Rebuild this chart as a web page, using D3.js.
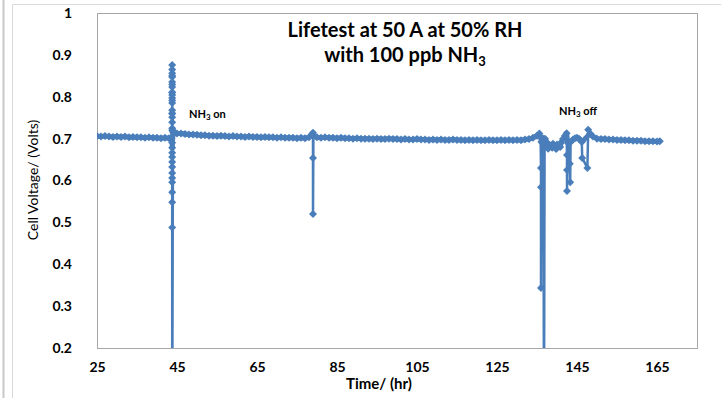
<!DOCTYPE html>
<html>
<head>
<meta charset="utf-8">
<script src="https://cdn.jsdelivr.net/npm/d3@7"></script>
<style>
  body { margin: 0; background: #fff; }
  svg text { font-family: Lato, "Open Sans", sans-serif; fill: #000; }
</style>
</head>
<body>
<div id="container"></div>
<script>
/* DATA */
const xTicks = [25, 45, 65, 85, 105, 125, 145, 165];
const yTicks = [0.2, 0.3, 0.4, 0.5, 0.6, 0.7, 0.8, 0.9, 1];
const titleLines = ["Lifetest at 50 A at 50% RH", "with 100 ppb NH"];

// [time (hr), cell voltage (V)]; 0 = reading below the axis minimum
const readings = [
  [25,.706],[26,.705],[27,.706],[28,.705],[29,.704],[30,.705],[31,.704],[32,.705],[33,.703],[34,.704],
  [35,.703],[36,.703],[37,.702],[38,.703],[39,.702],[40,.702],[41,.701],[42,.702],[43,.701],[43.6,.701],
  [43.8,.725],[43.8,.739],[43.8,.751],[43.8,.760],[43.8,.768],[43.8,.785],[43.8,.791],[43.8,.797],
  [43.8,.804],[43.8,.811],[43.8,.823],[43.8,.829],[43.8,.835],[43.8,.847],[43.8,.856],[43.8,.865],
  [43.8,.876],[43.8,.850],[43.8,.810],[43.8,.760],[43.8,.720],[43.8,.690],[43.8,.678],[43.8,.666],
  [43.8,.656],[43.8,.644],[43.8,.632],[43.8,.618],[43.8,.606],[43.8,.596],[43.8,.572],[43.8,.548],
  [43.8,.488],[43.8,0],[44,.716],[44.5,.714],[45,.712],[46,.712],[47,.711],[48,.710],[49,.710],
  [50,.709],[51,.708],[52,.708],[53,.707],[54,.707],[55,.706],[56,.707],[57,.706],[58,.705],[59,.706],
  [60,.705],[61,.705],[62,.704],[63,.705],[64,.704],[65,.704],[66,.703],[67,.704],[68,.703],[69,.703],
  [70,.702],[71,.703],[72,.702],[73,.702],[74,.702],[75,.701],[76,.702],[77,.701],[78,.703],[78.7,.710],
  [79,.714],[79,.654],[79,.520],[79.1,.706],[80,.703],[81,.702],[82,.703],[83,.702],[84,.702],[85,.701],
  [86,.702],[87,.701],[88,.701],[89,.700],[90,.701],[91,.700],[92,.700],[93,.700],[94,.699],[95,.700],
  [96,.699],[97,.699],[98,.700],[99,.699],[100,.699],[101,.698],[102,.699],[103,.698],[104,.698],[105,.699],
  [106,.698],[107,.698],[108,.697],[109,.698],[110,.697],[111,.698],[112,.697],[113,.697],[114,.698],[115,.697],
  [116,.697],[117,.696],[118,.697],[119,.696],[120,.697],[121,.696],[122,.696],[123,.697],[124,.696],[125,.696],
  [126,.697],[127,.696],[128,.697],[129,.696],[130,.697],[131,.696],[132,.698],[133,.699],[134,.702],[135,.707],
  [135.6,.712],[135.9,.704],[136,.630],[136,.584],[136,.343],[136.1,.692],[136.6,.700],[136.75,0],[136.9,.696],
  [137,.700],[137.5,.690],[137.8,.676],[138,.686],[138.5,.683],[138.8,.678],[139,.688],[139.5,.681],[139.8,.675],
  [140,.686],[140.5,.684],[140.8,.680],[141,.690],[141.5,.699],
  [142,.707],[142.4,.713],[142.5,.661],[142.5,.625],[142.5,.575],[142.7,.690],[143.2,.640],[143.3,.596],
  [143.4,.692],[144,.698],[144.5,.701],[145,.702],[145.5,.700],[146.2,.692],[146.3,.654],[147.6,.630],
  [147.8,.721],[148.3,.712],[149,.705],[150,.700],[151,.699],[152,.699],[153,.698],[154,.698],[155,.697],
  [156,.697],[157,.696],[158,.696],[159,.695],[160,.695],[161,.695],[162,.694],[163,.694],[164,.694],
  [165,.693],[165.7,.694]
];

const notes = [
  { t: 48, v: 0.7485, label: "on" },
  { t: 140.5, v: 0.7555, label: "off" }
];

/* CONSTANTS */
const width = 721,
  height = 398,
  margin = { top: 13, bottom: 50, left: 97, right: 24 };
const blue = "#4a7ebb";

const svg = d3.select("#container")
  .append("svg")
  .attr("width", width)
  .attr("height", height);

// outer frame bits
svg.append("line").attr("x1", 3.5).attr("x2", 3.5).attr("y1", 0).attr("y2", height)
  .attr("stroke", "#c8c8c8").attr("stroke-width", 2);
svg.append("path").attr("d", `M12.5,${height}V4.5H${width}`)
  .attr("fill", "none").attr("stroke", "#d9d9d9");

// SCALES
const xScale = d3.scaleLinear()
  .domain([25, 175])
  .range([margin.left, width - margin.right]);

const yScale = d3.scaleLinear()
  .domain([0.2, 1])
  .range([height - margin.bottom, margin.top]);

// PLOT FRAME
svg.append("rect")
  .attr("x", margin.left + 0.5)
  .attr("y", margin.top + 0.5)
  .attr("width", width - margin.right - margin.left)
  .attr("height", height - margin.bottom - margin.top)
  .attr("fill", "none")
  .attr("stroke", "#a6a6a6");

// AXES
const xAxis = d3.axisBottom(xScale).tickValues(xTicks).tickSize(0).tickPadding(14);
svg.append("g")
  .attr("transform", `translate(0, ${height - margin.bottom})`)
  .call(xAxis)
  .call(g => g.select(".domain").remove())
  .selectAll("text")
  .attr("font-size", 14).attr("font-weight", "bold").attr("fill", "#000");

const yAxis = d3.axisLeft(yScale).tickValues(yTicks).tickSize(0).tickPadding(25)
  .tickFormat(d => d3.format("")(+d.toFixed(1)));
svg.append("g")
  .attr("transform", `translate(${margin.left}, 0)`)
  .call(yAxis)
  .call(g => g.select(".domain").remove())
  .selectAll("text")
  .attr("font-size", 14).attr("font-weight", "bold").attr("fill", "#000");

// TITLES
const title = svg.append("text")
  .attr("text-anchor", "middle")
  .attr("font-size", 20)
  .attr("font-weight", "bold");
title.append("tspan").attr("x", 405).attr("y", 37).text(titleLines[0]);
title.append("tspan").attr("x", 405).attr("y", 62).text(titleLines[1]);
title.append("tspan").attr("font-size", 13).attr("dy", 4).text("3");

svg.append("text")
  .attr("x", 379)
  .attr("y", 389)
  .attr("text-anchor", "middle")
  .attr("font-size", 15)
  .attr("font-weight", "bold")
  .text("Time/ (hr)");

svg.append("text")
  .attr("transform", `translate(38, 180) rotate(-90)`)
  .attr("text-anchor", "middle")
  .attr("font-size", 14)
  .text("Cell Voltage/ (Volts)");

// SERIES
svg.append("clipPath").attr("id", "plot-clip")
  .append("rect")
  .attr("x", margin.left)
  .attr("y", margin.top)
  .attr("width", width - margin.right - margin.left)
  .attr("height", height - margin.bottom - margin.top);

const series = svg.append("g").attr("clip-path", "url(#plot-clip)");

const lineGen = d3.line()
  .x(d => xScale(d[0]))
  .y(d => yScale(d[1]));

series.append("path")
  .datum(readings)
  .attr("d", lineGen)
  .attr("fill", "none")
  .attr("stroke", blue)
  .attr("stroke-width", 2.5)
  .attr("stroke-linejoin", "round");

// the dense readings near 0.7 V merge into a thick band
series.append("path")
  .datum(readings.filter(d => d[1] > 0.67 && d[1] < 0.72))
  .attr("d", lineGen)
  .attr("fill", "none")
  .attr("stroke", blue)
  .attr("stroke-width", 5)
  .attr("stroke-linejoin", "round")
  .attr("stroke-linecap", "round");

series.selectAll(".marker")
  .data(readings)
  .join("path")
  .attr("class", "marker")
  .attr("transform", d => `translate(${xScale(d[0])}, ${yScale(d[1])})`)
  .attr("d", "M0,-4L4,0L0,4L-4,0Z")
  .attr("fill", blue);

// NOTES
notes.forEach(n => {
  const t = svg.append("text")
    .attr("x", xScale(n.t))
    .attr("y", yScale(n.v))
    .attr("font-size", 11)
    .attr("font-weight", "bold");
  t.append("tspan").text("NH");
  t.append("tspan").attr("font-size", 8).attr("dy", 2).text("3");
  t.append("tspan").attr("dy", -2).text(" " + n.label);
});
</script>
</body>
</html>
